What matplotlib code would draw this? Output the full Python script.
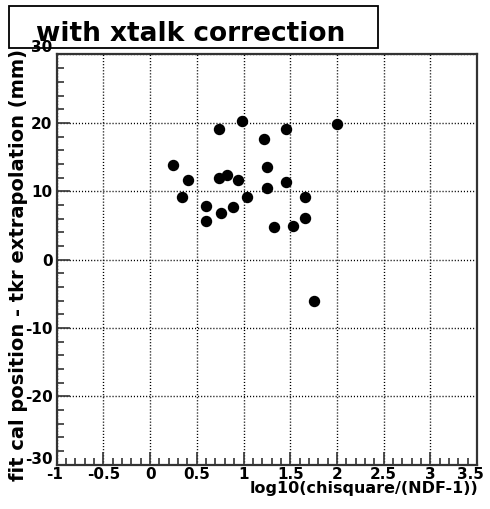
import matplotlib.pyplot as plt
from matplotlib.patches import Rectangle
from matplotlib.ticker import MultipleLocator
import matplotlib.transforms as mtransforms

# data
log_chi2 = [0.25, 0.41, 0.34, 0.60, 0.60, 0.74, 0.74, 0.82, 0.76, 0.89, 0.94, 0.98,
            1.04, 1.22, 1.25, 1.25, 1.33, 1.45, 1.45, 1.53, 1.66, 1.66, 2.00, 1.75]
dpos = [13.8, 11.7, 9.2, 7.8, 5.6, 19.1, 11.9, 12.3, 6.8, 7.7, 11.7, 20.3,
        9.2, 17.7, 13.6, 10.5, 4.8, 19.1, 11.3, 4.9, 9.2, 6.1, 19.9, -6.0]

title = 'with xtalk correction'
xlabel = 'log10(chisquare/(NDF-1))'
ylabel = 'fit cal position - tkr extrapolation (mm)'

W, H = 490, 509
fig = plt.figure(figsize=(W / 100, H / 100), dpi=100)
ax = fig.add_axes([56.7 / W, (H - 464.5) / H, 420.3 / W, 410 / H])

ax.plot(log_chi2, dpos, 'o', color='black', markersize=7.2, zorder=3)

ax.set_xlim(-1, 3.5)
ax.set_ylim(-30, 30)
ax.xaxis.set_major_locator(MultipleLocator(0.5))
ax.xaxis.set_minor_locator(MultipleLocator(0.1))
ax.yaxis.set_major_locator(MultipleLocator(10))
ax.yaxis.set_minor_locator(MultipleLocator(2))
ax.xaxis.set_major_formatter(plt.FuncFormatter(lambda v, p: ('%g' % v)))
ax.yaxis.set_major_formatter(plt.FuncFormatter(lambda v, p: ('%g' % v)))

ax.grid(True, which='major', color='black', linestyle=(0, (0.8, 1.4)), linewidth=1.0)
ax.tick_params(which='both', direction='in', top=False, right=False, color='#333333')
ax.tick_params(which='major', length=9.5, width=1.2, labelsize=11, pad=1.5)
ax.tick_params(which='minor', length=5, width=1.2)
ax.tick_params(axis='y', which='major', pad=3)
for lab in ax.get_xticklabels() + ax.get_yticklabels():
    lab.set_fontweight('bold')
for s in ax.spines.values():
    s.set_linewidth(1.6)
    s.set_color('#333333')

# shift end labels like ROOT does
fig.canvas.draw()
for lab in ax.get_yticklabels():
    t = lab.get_text().replace('\u2212', '-')
    if t == '30':
        lab.set_transform(lab.get_transform() + mtransforms.ScaledTranslation(0, 9 / 100, fig.dpi_scale_trans))
    elif t == '-30':
        lab.set_transform(lab.get_transform() + mtransforms.ScaledTranslation(0, 6 / 100, fig.dpi_scale_trans))
for lab in ax.get_xticklabels():
    t = lab.get_text().replace('\u2212', '-')
    if t == '3.5':
        lab.set_transform(lab.get_transform() + mtransforms.ScaledTranslation(-7 / 100, 0, fig.dpi_scale_trans))
    elif t == '-1':
        lab.set_transform(lab.get_transform() + mtransforms.ScaledTranslation(-2 / 100, 0, fig.dpi_scale_trans))

fig.text(478 / W, 16 / H, xlabel, ha='right', va='baseline', fontsize=11.5, fontweight='bold')
fig.text(19 / W, (H - 265) / H, ylabel, ha='center', va='center', rotation=90,
         fontsize=14, fontweight='bold')

# title box
fig.patches.append(Rectangle((9 / W, (H - 47.7) / H), 369 / W, 42 / H, transform=fig.transFigure,
                             fill=False, edgecolor='black', linewidth=1.3))
fig.text(191 / W, (H - 40.7) / H, title, ha='center', va='baseline', fontsize=19, fontweight='bold')

plt.savefig('out.png', dpi=100)
